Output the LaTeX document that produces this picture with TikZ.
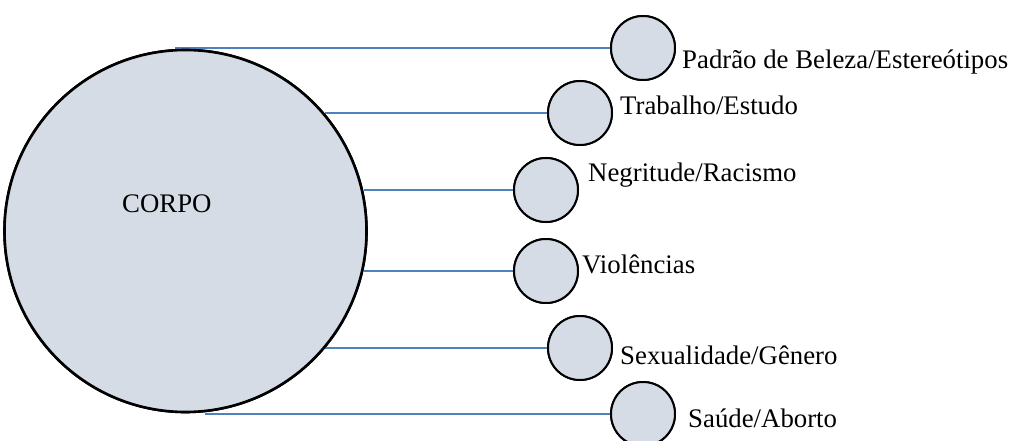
\documentclass[tikz,border=0pt]{standalone}
\usepackage{fontspec}
\setmainfont{Liberation Serif}
\definecolor{fillc}{RGB}{214,220,229}
\definecolor{linec}{RGB}{79,129,189}
\begin{document}
\begin{tikzpicture}[x=1pt,y=-1pt,
  bigc/.style={circle,draw=black,line width=2.6pt,fill=fillc,minimum size=362pt,inner sep=0pt},
  smallc/.style={circle,draw=black,line width=2pt,fill=fillc,minimum size=64pt,inner sep=0pt},
  lbl/.style={anchor=base west,inner sep=0pt,font=\fontsize{26.8}{31}\selectfont},
  conn/.style={draw=linec,line width=2.2pt}]
\useasboundingbox (0,0) rectangle (1022,441);
\coordinate (s1) at (175,48);
\coordinate (s6) at (205,414);
\node[smallc] (c1) at (643,48) {};
\node[smallc] (c2) at (580,113) {};
\node[smallc] (c3) at (546,190) {};
\node[smallc] (c4) at (546,271) {};
\node[smallc] (c5) at (580,348) {};
\node[smallc] (c6) at (643,414) {};
\node[bigc] (corpo) at (185.5,231) {};
\draw[conn] (s1) -- (c1.west);
\draw[conn] (corpo.40.7 |- c2.west) -- (c2.west);
\draw[conn] (corpo.12.9 |- c3.west) -- (c3.west);
\draw[conn] (corpo.-12.8 |- c4.west) -- (c4.west);
\draw[conn] (corpo.-40.2 |- c5.west) -- (c5.west);
\draw[conn] (s6) -- (c6.west);
\node[bigc] at (corpo) {};
\node[smallc] at (c1) {};
\node[smallc] at (c2) {};
\node[smallc] at (c3) {};
\node[smallc] at (c4) {};
\node[smallc] at (c5) {};
\node[smallc] at (c6) {};
\node[lbl] (tcorpo) at (122,212) {CORPO};
\node[lbl] (t1) at (682,69) {Padrão de Beleza/Estereótipos};
\node[lbl] (t2) at (620,115) {Trabalho/Estudo};
\node[lbl] (t3) at (588,181) {Negritude/Racismo};
\node[lbl] (t4) at (582,273) {Violências};
\node[lbl] (t5) at (620,364) {Sexualidade/Gênero};
\node[lbl] (t6) at (688,427) {Saúde/Aborto};
\end{tikzpicture}
\end{document}
